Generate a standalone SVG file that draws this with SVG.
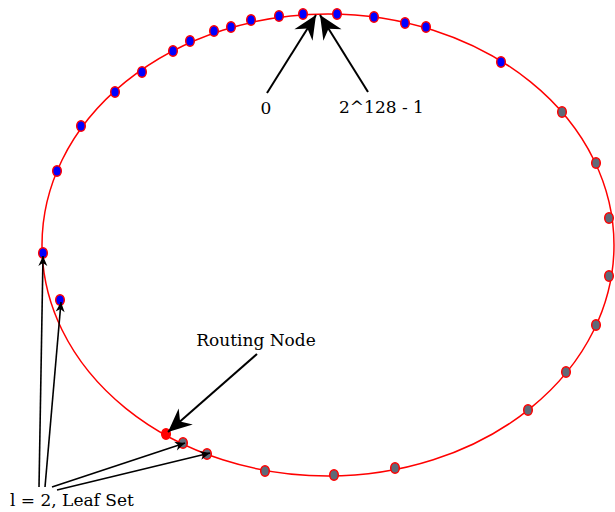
<svg xmlns="http://www.w3.org/2000/svg" width="615" height="512" viewBox="0 0 615 512">
<style>
.ring{fill:none;stroke:#ff0000;stroke-width:1.5}
.b{fill:#0000ff;stroke:#ff0000;stroke-width:1.5}
.g{fill:#5f6a78;stroke:#ff0000;stroke-width:1.5}
.r{fill:#ff0000;stroke:#ff0000;stroke-width:1.5}
.ln{stroke:#000;stroke-width:2;fill:none}
.ls{stroke:#000;stroke-width:1.6;fill:none}
text{font-family:"DejaVu Serif",serif;font-size:17px;fill:#000}
</style>
<defs>
<marker id="big" markerUnits="userSpaceOnUse" markerWidth="30" markerHeight="30" refX="0" refY="0" viewBox="-24 -12 28 24" orient="auto" overflow="visible">
<path d="M0,0 L-22,-10 L-15,0 L-22,10 z" fill="#000"/>
</marker>
<marker id="sm" markerUnits="userSpaceOnUse" markerWidth="14" markerHeight="14" refX="0" refY="0" viewBox="-12 -6 14 12" orient="auto" overflow="visible">
<path d="M0,0 L-10,-4.5 L-7,0 L-10,4.5 z" fill="#000"/>
</marker>
</defs>
<g id="ring"><ellipse class="ring" cx="328" cy="245" rx="286" ry="231"/></g>
<g id="nodes">
<ellipse class="b" cx="214" cy="31" rx="4.3" ry="5.3"/>
<ellipse class="b" cx="231" cy="27" rx="4.3" ry="5.3"/>
<ellipse class="b" cx="251" cy="20" rx="4.3" ry="5.3"/>
<ellipse class="b" cx="279" cy="16" rx="4.3" ry="5.3"/>
<ellipse class="b" cx="303" cy="14" rx="4.3" ry="5.3"/>
<ellipse class="b" cx="337" cy="14" rx="4.3" ry="5.3"/>
<ellipse class="b" cx="374" cy="17" rx="4.3" ry="5.3"/>
<ellipse class="b" cx="405" cy="23" rx="4.3" ry="5.3"/>
<ellipse class="b" cx="426" cy="27" rx="4.3" ry="5.3"/>
<ellipse class="b" cx="190" cy="41" rx="4.3" ry="5.3"/>
<ellipse class="b" cx="173" cy="51" rx="4.3" ry="5.3"/>
<ellipse class="b" cx="142" cy="72" rx="4.3" ry="5.3"/>
<ellipse class="b" cx="115" cy="92" rx="4.3" ry="5.3"/>
<ellipse class="b" cx="81" cy="126" rx="4.3" ry="5.3"/>
<ellipse class="b" cx="57" cy="171" rx="4.3" ry="5.3"/>
<ellipse class="b" cx="43" cy="253" rx="4.3" ry="5.3"/>
<ellipse class="b" cx="60" cy="300" rx="4.3" ry="5.3"/>
<ellipse class="b" cx="501" cy="62" rx="4.3" ry="5.3"/>
<ellipse class="g" cx="562" cy="112" rx="4.3" ry="5.3"/>
<ellipse class="g" cx="596" cy="163" rx="4.3" ry="5.3"/>
<ellipse class="g" cx="609" cy="218" rx="4.3" ry="5.3"/>
<ellipse class="g" cx="609" cy="276" rx="4.3" ry="5.3"/>
<ellipse class="g" cx="596" cy="325" rx="4.3" ry="5.3"/>
<ellipse class="g" cx="566" cy="372" rx="4.3" ry="5.3"/>
<ellipse class="g" cx="528" cy="410" rx="4.3" ry="5.3"/>
<ellipse class="g" cx="395" cy="468" rx="4.3" ry="5.3"/>
<ellipse class="g" cx="334" cy="475" rx="4.3" ry="5.3"/>
<ellipse class="g" cx="265" cy="471" rx="4.3" ry="5.3"/>
<ellipse class="g" cx="207" cy="454" rx="4.3" ry="5.3"/>
<ellipse class="g" cx="183" cy="443" rx="4.3" ry="5.3"/>
<ellipse class="r" cx="166" cy="434" rx="4.3" ry="5.3"/>
</g>
<g id="connectors">
<line class="ln" x1="267" y1="93" x2="316" y2="15" marker-end="url(#big)"/>
<line class="ln" x1="368" y1="92" x2="320" y2="15" marker-end="url(#big)"/>
<line class="ln" x1="257" y1="354" x2="168" y2="432" marker-end="url(#big)"/>
<line class="ls" x1="39" y1="487" x2="43" y2="256" marker-end="url(#sm)"/>
<line class="ls" x1="45" y1="487" x2="61" y2="302" marker-end="url(#sm)"/>
<line class="ls" x1="52" y1="487" x2="185" y2="443" marker-end="url(#sm)"/>
<line class="ls" x1="57" y1="490" x2="210" y2="453" marker-end="url(#sm)"/>
</g>
<g id="labels">
<text x="266" y="114" text-anchor="middle">0</text>
<text x="381.5" y="113" text-anchor="middle">2^128 - 1</text>
<text x="256" y="346" text-anchor="middle">Routing Node</text>
<text x="10" y="506">l = 2, Leaf Set</text>
</g>
</svg>
